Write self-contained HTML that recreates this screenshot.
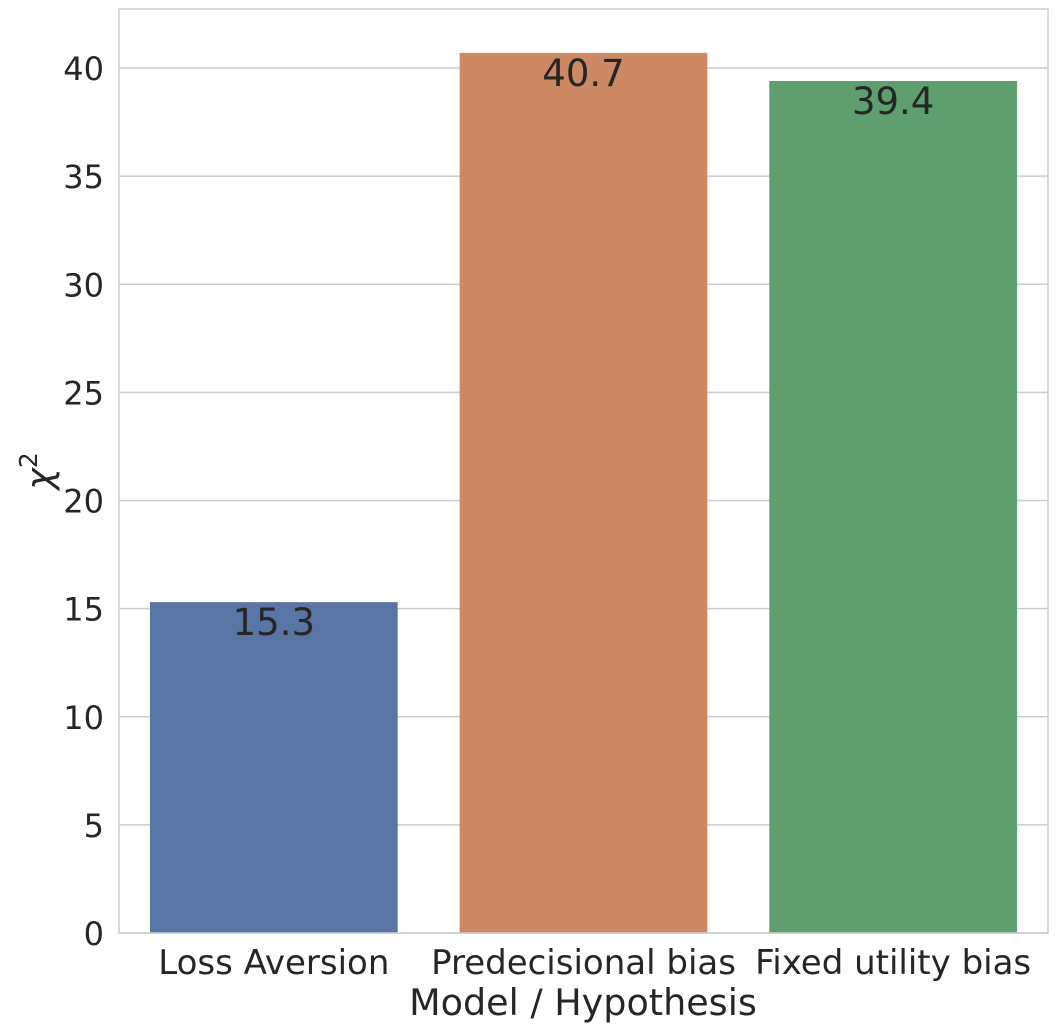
<!DOCTYPE html>
<html><head><meta charset="utf-8"><style>
html,body{margin:0;padding:0;background:#fff;}
svg{display:block;font-family:"DejaVu Sans","Liberation Sans",sans-serif;}
</style></head><body>
<svg id="chart" width="1058" height="1031" viewBox="0 0 1058 1031" xmlns="http://www.w3.org/2000/svg"></svg>
<script>
const categories = ["Loss Aversion", "Predecisional bias", "Fixed utility bias"];
const values = [15.3, 40.7, 39.4];
const valueLabels = ["15.3", "40.7", "39.4"];
const yTicks = [0, 5, 10, 15, 20, 25, 30, 35, 40];
const colors = ["#5875a4", "#cc8963", "#5f9e6e"];

const NS = "http://www.w3.org/2000/svg";
const svg = document.getElementById("chart");
const L = 119, R = 1048, T = 9, B = 933;
const yMax = 42.73;
const y = v => B - (v / yMax) * (B - T);
const band = (R - L) / categories.length;
const x = i => L + band * i + band * 0.1;
const bw = band * 0.8;

function mk(tag, attrs, text) {
  const e = document.createElementNS(NS, tag);
  for (const k in attrs) e.setAttribute(k, attrs[k]);
  if (text !== undefined) e.textContent = text;
  svg.appendChild(e);
  return e;
}

yTicks.forEach(t => {
  const g = mk("line", {x1: L, x2: R, y1: y(t), y2: y(t), stroke: "#cccccc", "stroke-width": 1.5});
  
  
  const lb = mk("text", {x: 104, y: y(t) + 12, "text-anchor": "end", "font-size": 32, fill: "#262626"}, String(t));
  
  
});

categories.forEach((c, i) => {
  const r = mk("rect", {x: x(i), y: y(values[i]), width: bw, height: B - y(values[i]), fill: colors[i]});
  
  
  const v = mk("text", {x: x(i) + bw / 2, y: y(values[i]) + 33, "text-anchor": "middle", "font-size": 37, fill: "#262626"}, valueLabels[i]);
  
  
  const t = mk("text", {x: L + band * i + band / 2, y: 974, "text-anchor": "middle", "font-size": 34, fill: "#262626"}, c);
  
  
});

const frame = mk("rect", {x: L, y: T, width: R - L, height: B - T, fill: "none", stroke: "#cccccc", "stroke-width": 1.5});



const xt = mk("text", {x: 583, y: 1015, "text-anchor": "middle", "font-size": 36.5, fill: "#262626"}, "Model / Hypothesis");



const yt = mk("text", {transform: "translate(52,471) rotate(-90)", "text-anchor": "middle", "font-size": 36.5, fill: "#262626", "font-style": "italic"});


const s1 = document.createElementNS(NS, "tspan"); s1.textContent = "χ"; yt.appendChild(s1);
const s2 = document.createElementNS(NS, "tspan"); s2.setAttribute("dy", "-15"); s2.setAttribute("font-size", "25"); s2.setAttribute("font-style", "normal"); s2.textContent = "2"; yt.appendChild(s2);
</script>
</body></html>
